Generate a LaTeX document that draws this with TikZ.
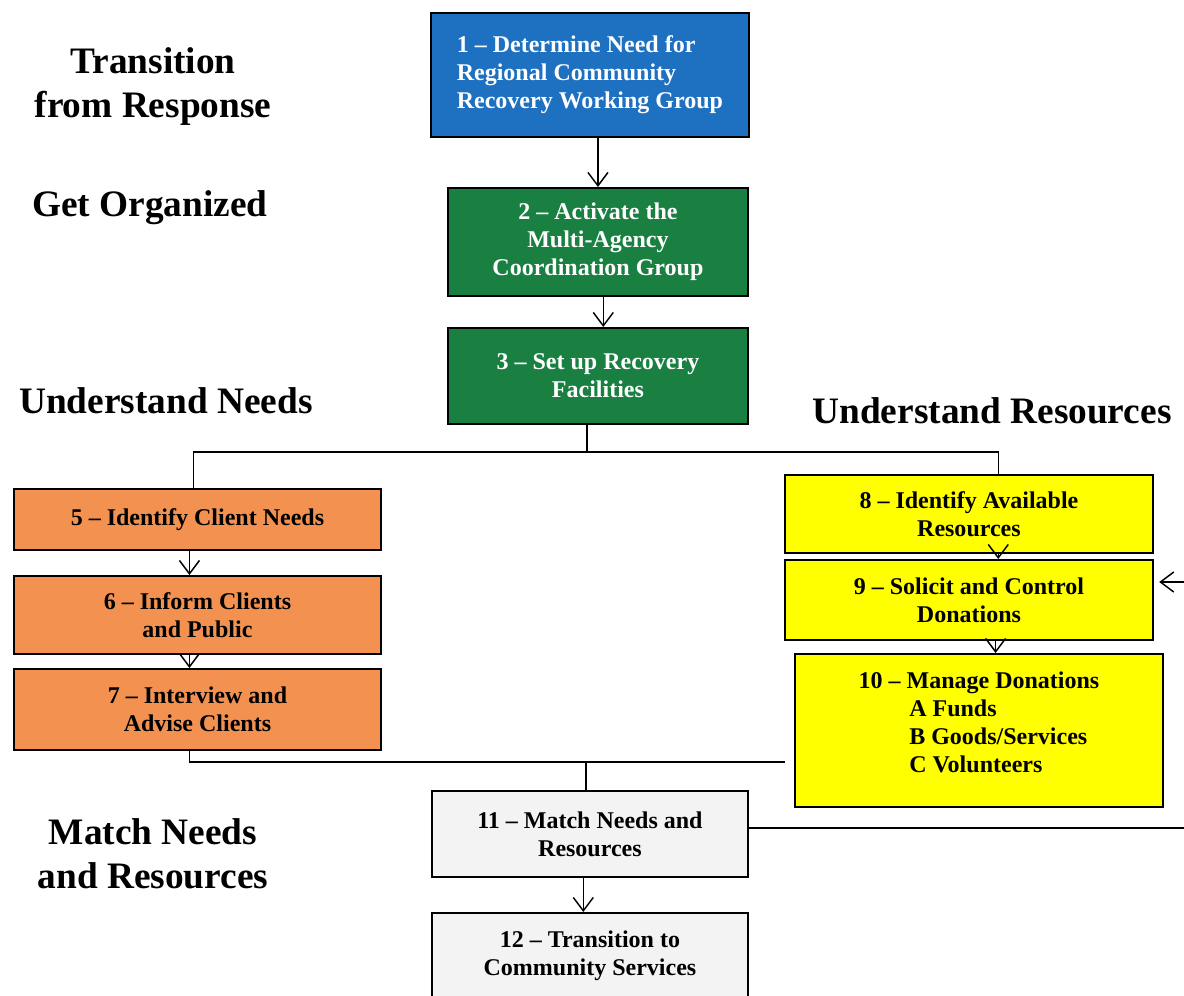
\documentclass[tikz,border=0pt]{standalone}
\usepackage{fontspec}
\setmainfont{Liberation Serif}
\usetikzlibrary{arrows.meta}

\definecolor{stepblue}{RGB}{30,112,192}
\definecolor{stepgreen}{RGB}{26,128,66}
\definecolor{steporange}{RGB}{243,146,80}
\definecolor{stepyellow}{RGB}{255,255,0}
\definecolor{stepgray}{RGB}{243,243,243}

\begin{document}
\begin{tikzpicture}[x=0.75pt,y=-0.75pt,line width=1.1pt,
    box/.style={draw, line width=1.4pt, anchor=north west, inner sep=0pt,
      align=center, font=\bfseries\fontsize{18}{21}\selectfont},
    title/.style={align=center, font=\bfseries\fontsize{28}{33}\selectfont},
    arr/.style={-{Straight Barb[length=10pt,width=15pt]}}]
    \clip (0,0) rectangle (1184,995);
    \fill [white] (0,0) rectangle (1184,995);
    % phase titles
    \node [title] (tresp) at (153,87) {Transition\\from Response};
    \node [title, anchor=base] (torg) at (150,216) {Get Organized};
    \node [title, anchor=base] (tneeds) at (166,413) {Understand Needs};
    \node [title, anchor=base] (tres) at (992,423) {Understand Resources};
    \node [title] (tmatch) at (153,854) {Match Needs\\and Resources};
    % steps
    \node [box, fill=stepblue, text=white, align=left, minimum width=238.5pt,
      minimum height=93pt] (b1) at (430,12)
      {1 – Determine Need for\\Regional Community\\Recovery Working Group};
    \node [box, fill=stepgreen, text=white, minimum width=225pt,
      minimum height=81pt] (b2) at (447,187)
      {2 – Activate the\\Multi-Agency\\Coordination Group};
    \node [box, fill=stepgreen, text=white, minimum width=225pt,
      minimum height=72pt] (b3) at (447,327) {3 – Set up Recovery\\Facilities};
    \node [box, fill=steporange, minimum width=275.25pt,
      minimum height=45.75pt] (b5) at (13,488) {5 – Identify Client Needs};
    \node [box, fill=steporange, minimum width=275.25pt,
      minimum height=58.5pt] (b6) at (13,575) {6 – Inform Clients\\and Public};
    \node [box, fill=steporange, minimum width=275.25pt,
      minimum height=60.75pt] (b7) at (13,668) {7 – Interview and\\Advise Clients};
    \node [box, fill=stepyellow, minimum width=276pt,
      minimum height=58.5pt] (b8) at (784,474) {8 – Identify Available\\Resources};
    \node [box, fill=stepyellow, minimum width=276pt,
      minimum height=60pt] (b9) at (784,559) {9 – Solicit and Control\\Donations};
    \node [box, fill=stepyellow, align=left, text depth=12pt, minimum width=276pt,
      minimum height=114.75pt] (b10) at (794,653)
      {10 – Manage Donations\\\hspace*{38pt}A Funds\\\hspace*{38pt}B Goods/Services\\\hspace*{38pt}C Volunteers};
    \node [box, fill=stepgray, minimum width=237pt,
      minimum height=64.5pt] (b11) at (431,790) {11 – Match Needs and\\Resources};
    \node [box, fill=stepgray, minimum width=237pt,
      minimum height=64.5pt] (b12) at (431,912) {12 – Transition to\\Community Services};
    % free ends
    \coordinate (split) at (587,452);
    \coordinate (merge) at (785,762);
    \coordinate (feed) at (1184,582);
    \coordinate (out) at (1184,828);
    \coordinate (c11) at ([xshift=-3pt]b11.north);
    % connectors
    \draw [arr] (b1.south -| b2.north) -- (b2.north);
    \draw [arr] ([xshift=4pt]b2.south) -- ([xshift=4pt]b3.north);
    \draw (split |- b3.south) -- (split);
    \draw ([xshift=-3pt]b5.north) |- (split) -| ([xshift=22pt]b8.north);
    \draw [arr] ([xshift=-6pt]b5.south) -- ([xshift=-6pt]b6.north);
    \draw [arr] ([xshift=-6pt]b6.south) -- ([xshift=-6pt]b7.north);
    \draw ([xshift=-6pt]b7.south) |- (merge);
    \draw (c11) -- (c11 |- merge);
    \draw [arr] ([xshift=22pt]b8.south) -- ([xshift=22pt]b9.north);
    \draw [arr] ([xshift=20pt]b9.south) -- ([xshift=20pt]b9.south |- b10.north);
    \draw [arr, shorten >=4pt] (feed) -- (feed -| b9.east);
    \draw (out -| b11.east) -- (out);
    \draw [arr] ([xshift=-5pt]b11.south) -- ([xshift=-5pt]b12.north);
\end{tikzpicture}
\end{document}
